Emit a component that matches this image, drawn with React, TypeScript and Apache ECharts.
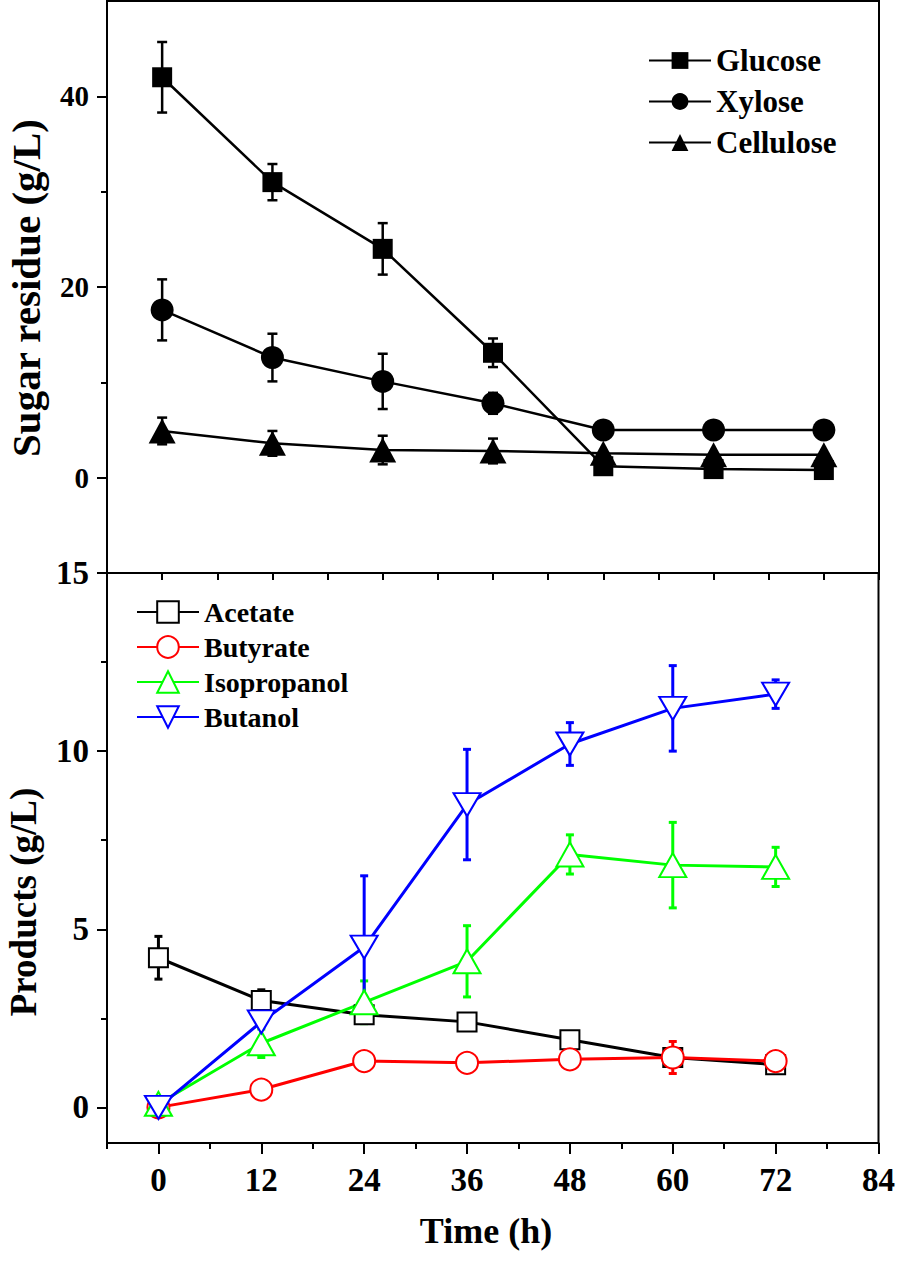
import React, { useEffect, useRef } from "react";
import * as echarts from "echarts";

const times = [0, 12, 24, 36, 48, 60, 72];

const glucose = [42.0, 31.0, 24.0, 13.1, 1.2, 0.9, 0.8];
const glucoseErr = [3.7, 1.9, 2.7, 1.5, 0, 0, 0];
const xylose = [17.6, 12.6, 10.1, 7.8, 5.0, 5.0, 5.0];
const xyloseErr = [3.2, 2.5, 2.9, 1.1, 0, 0, 0];
const cellulose = [4.9, 3.6, 2.9, 2.8, 2.55, 2.4, 2.4];
const celluloseErr = [1.4, 1.3, 1.5, 1.3, 0, 0, 0];

const acetate = [4.2, 3.0, 2.6, 2.4, 1.9, 1.4, 1.2];
const acetateErr = [0.6, 0.3, 0.2, 0.15, 0.2, 0.15, 0.15];
const butyrate = [0.0, 0.5, 1.3, 1.25, 1.35, 1.4, 1.3];
const butyrateErr = [0, 0, 0.2, 0.2, 0.15, 0.45, 0.15];
const isopropanol = [0.1, 1.8, 2.95, 4.1, 7.1, 6.8, 6.75];
const isopropanolErr = [0.1, 0.4, 0.6, 1.0, 0.55, 1.2, 0.55];
const butanol = [0.0, 2.4, 4.5, 8.5, 10.2, 11.2, 11.6];
const butanolErr = [0, 0.7, 2.0, 1.55, 0.6, 1.2, 0.4];

const topYLabels = [0, 20, 40];
const topYMinor = [10, 30];
const botYLabels = [0, 5, 10, 15];
const botYMinor = [2.5, 7.5, 12.5];
const botXLabels = [0, 12, 24, 36, 48, 60, 72, 84];
const botXMinor = [-6, 6, 18, 30, 42, 54, 66, 78];

const FONT = '"Liberation Serif", "Times New Roman", serif';

function pairs(vals: number[]) {
  return times.map((t, i) => [t, vals[i]]);
}
function triples(vals: number[], errs: number[]) {
  return times.map((t, i) => [t, vals[i], errs[i]]);
}

function errSeries(name: string, vals: number[], errs: number[], color: string, xi: number, yi: number, lw: number, cap: number) {
  return {
    type: "custom",
    name: name + "_err",
    xAxisIndex: xi,
    yAxisIndex: yi,
    z: 2,
    silent: true,
    encode: { x: 0, y: 1 },
    data: triples(vals, errs),
    renderItem: (params: any, api: any) => {
      const x = api.value(0);
      const y = api.value(1);
      const e = api.value(2);
      if (!e) return { type: "group", children: [] };
      const t = api.coord([x, y + e]);
      const b = api.coord([x, y - e]);
      const st = { stroke: color, lineWidth: lw };
      return {
        type: "group",
        children: [
          { type: "line", shape: { x1: t[0], y1: t[1], x2: b[0], y2: b[1] }, style: st },
          { type: "line", shape: { x1: t[0] - cap, y1: t[1], x2: t[0] + cap, y2: t[1] }, style: st },
          { type: "line", shape: { x1: b[0] - cap, y1: b[1], x2: b[0] + cap, y2: b[1] }, style: st },
        ],
      };
    },
  };
}

export default function App() {
  const ref = useRef<HTMLDivElement>(null);
  useEffect(() => {
    const chart = echarts.init(ref.current!, null, { renderer: "svg" });
    const axisLine = { show: true, onZero: false, lineStyle: { color: "#000", width: 2 } };
    const noLine = { show: false, onZero: false };
    const tickStyle = { color: "#000", width: 2 };
    const labelTop = { fontFamily: FONT, fontWeight: "bold", fontSize: 29, color: "#000" };
    const labelBot = { fontFamily: FONT, fontWeight: "bold", fontSize: 33, color: "#000" };

    const option: any = {
      animation: false,
      backgroundColor: "#fff",
      grid: [
        { left: 107, right: 19, top: 1, height: 572, show: true, borderColor: "#000", borderWidth: 2, backgroundColor: "transparent" },
        { left: 107, right: 19, top: 573, bottom: 123, show: true, borderColor: "#000", borderWidth: 2, backgroundColor: "transparent" },
      ],
      xAxis: [
        {
          gridIndex: 0, type: "value", min: -6, max: 78, interval: 6, position: "bottom",
          axisLine, axisTick: { show: true, length: 7, lineStyle: tickStyle },
          axisLabel: { show: false }, splitLine: { show: false },
        },
        {
          gridIndex: 1, type: "value", min: -6, max: 84, position: "bottom",
          axisLine, axisTick: { show: true, length: 11, lineStyle: tickStyle, customValues: botXLabels },
          axisLabel: { ...labelBot, margin: 20, customValues: botXLabels }, splitLine: { show: false },
        },
        {
          gridIndex: 1, type: "value", min: -6, max: 84, position: "bottom",
          axisLine: noLine, axisTick: { show: true, length: 6, lineStyle: tickStyle, customValues: botXMinor },
          axisLabel: { show: false }, splitLine: { show: false },
        },
      ],
      yAxis: [
        {
          gridIndex: 0, type: "value", min: -10, max: 50, position: "left",
          axisLine, axisTick: { show: true, length: 10, lineStyle: tickStyle, customValues: topYLabels },
          axisLabel: { ...labelTop, margin: 18, customValues: topYLabels }, splitLine: { show: false },
        },
        {
          gridIndex: 0, type: "value", min: -10, max: 50, position: "left",
          axisLine: noLine, axisTick: { show: true, length: 6, lineStyle: tickStyle, customValues: topYMinor },
          axisLabel: { show: false }, splitLine: { show: false },
        },
        {
          gridIndex: 1, type: "value", min: -1, max: 15, position: "left",
          axisLine, axisTick: { show: true, length: 10, lineStyle: tickStyle, customValues: botYLabels },
          axisLabel: { ...labelBot, margin: 18, customValues: botYLabels }, splitLine: { show: false },
        },
        {
          gridIndex: 1, type: "value", min: -1, max: 15, position: "left",
          axisLine: noLine, axisTick: { show: true, length: 6, lineStyle: tickStyle, customValues: botYMinor },
          axisLabel: { show: false }, splitLine: { show: false },
        },
      ],
      legend: [
        {
          data: ["Glucose", "Xylose", "Cellulose"],
          orient: "vertical", left: 643, top: 40, itemWidth: 62, itemHeight: 21, itemGap: 10,
          textStyle: { fontFamily: FONT, fontWeight: "bold", fontSize: 31, color: "#000" },
          selectedMode: false,
        },
        {
          data: ["Acetate", "Butyrate", "Isopropanol", "Butanol"],
          orient: "vertical", left: 131, top: 593, itemWidth: 62, itemHeight: 27, itemGap: 7,
          textStyle: { fontFamily: FONT, fontWeight: "bold", fontSize: 28, color: "#000" },
          selectedMode: false,
        },
      ],
      graphic: [
        {
          type: "text", x: 26, y: 288, rotation: Math.PI / 2,
          style: { text: "Sugar residue (g/L)", font: `bold 41px ${FONT}`, fill: "#000", textAlign: "center", textVerticalAlign: "middle" },
        },
        {
          type: "text", x: 23, y: 902, rotation: Math.PI / 2,
          style: { text: "Products (g/L)", font: `bold 37px ${FONT}`, fill: "#000", textAlign: "center", textVerticalAlign: "middle" },
        },
        {
          type: "text", x: 486, y: 1231,
          style: { text: "Time (h)", font: `bold 36px ${FONT}`, fill: "#000", textAlign: "center", textVerticalAlign: "middle" },
        },
      ],
      series: [
        errSeries("Glucose", glucose, glucoseErr, "#000", 0, 0, 2.5, 5),
        errSeries("Xylose", xylose, xyloseErr, "#000", 0, 0, 2.5, 5),
        errSeries("Cellulose", cellulose, celluloseErr, "#000", 0, 0, 2.5, 5),
        errSeries("Acetate", acetate, acetateErr, "#000", 1, 2, 3, 4),
        errSeries("Butyrate", butyrate, butyrateErr, "#ff0000", 1, 2, 3, 4),
        errSeries("Isopropanol", isopropanol, isopropanolErr, "#00ff00", 1, 2, 3, 4),
        errSeries("Butanol", butanol, butanolErr, "#0000ff", 1, 2, 3, 4),
        {
          type: "line", name: "Glucose", xAxisIndex: 0, yAxisIndex: 0, z: 3, data: pairs(glucose),
          symbol: "rect", symbolSize: 20, showAllSymbol: true,
          lineStyle: { color: "#000", width: 2.5 }, itemStyle: { color: "#000", borderWidth: 0 },
        },
        {
          type: "line", name: "Xylose", xAxisIndex: 0, yAxisIndex: 0, z: 3, data: pairs(xylose),
          symbol: "circle", symbolSize: 23, showAllSymbol: true,
          lineStyle: { color: "#000", width: 2.5 }, itemStyle: { color: "#000", borderWidth: 0 },
        },
        {
          type: "line", name: "Cellulose", xAxisIndex: 0, yAxisIndex: 0, z: 3, data: pairs(cellulose),
          symbol: "triangle", symbolSize: [27, 25], showAllSymbol: true,
          lineStyle: { color: "#000", width: 2.5 }, itemStyle: { color: "#000", borderWidth: 0 },
        },
        {
          type: "line", name: "Acetate", xAxisIndex: 1, yAxisIndex: 2, z: 3, data: pairs(acetate),
          symbol: "rect", symbolSize: 19, showAllSymbol: true,
          lineStyle: { color: "#000", width: 3 }, itemStyle: { color: "#fff", borderColor: "#000", borderWidth: 2 },
        },
        {
          type: "line", name: "Butyrate", xAxisIndex: 1, yAxisIndex: 2, z: 3, data: pairs(butyrate),
          symbol: "circle", symbolSize: 22, showAllSymbol: true,
          lineStyle: { color: "#ff0000", width: 3 }, itemStyle: { color: "#fff", borderColor: "#ff0000", borderWidth: 2 },
        },
        {
          type: "line", name: "Isopropanol", xAxisIndex: 1, yAxisIndex: 2, z: 3, data: pairs(isopropanol),
          symbol: "triangle", symbolSize: [27, 24], showAllSymbol: true,
          lineStyle: { color: "#00ff00", width: 3 }, itemStyle: { color: "#fff", borderColor: "#00ff00", borderWidth: 2 },
        },
        {
          type: "line", name: "Butanol", xAxisIndex: 1, yAxisIndex: 2, z: 3, data: pairs(butanol),
          symbol: "triangle", symbolRotate: 180, symbolSize: [27, 23], showAllSymbol: true,
          lineStyle: { color: "#0000ff", width: 3 }, itemStyle: { color: "#fff", borderColor: "#0000ff", borderWidth: 2 },
        },
      ],
    };
    chart.setOption(option);
    return () => chart.dispose();
  }, []);
  return <div ref={ref} style={{ position: "fixed", left: 0, top: 0, width: 898, height: 1266 }} />;
}
